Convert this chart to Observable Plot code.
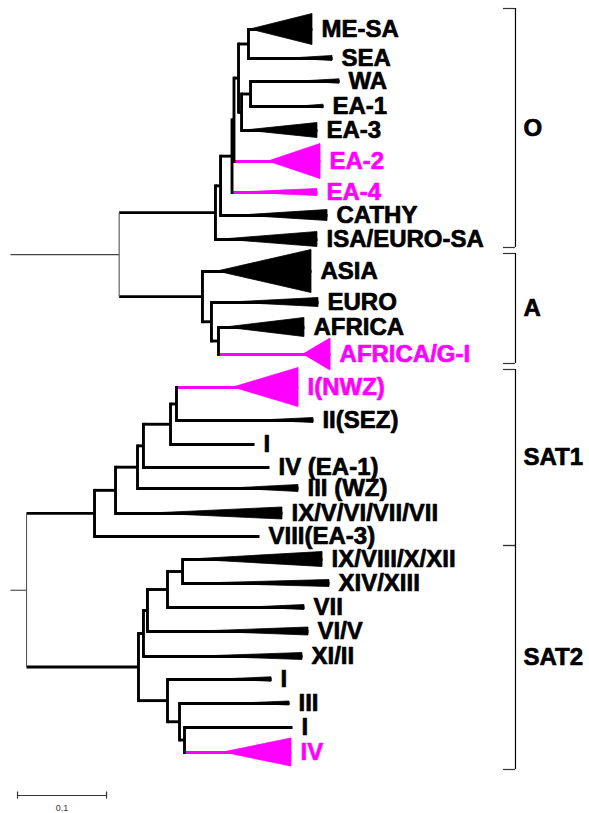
<!DOCTYPE html>
<html><head><meta charset="utf-8">
<script src="https://cdn.jsdelivr.net/npm/d3@7"></script>
<script src="https://cdn.jsdelivr.net/npm/@observablehq/plot@0.6"></script>
<style>body{margin:0;background:#fff}svg{display:block}</style>
</head><body><div id="chart"></div>
<script>
// Internal nodes: [id, parent, depth from left stub (substitutions/site)]
const nodes = [
  ["r1", null, 0], ["OA", "r1", 0.1221],
  ["O", "OA", 0.2303], ["O2", "O", 0.2360], ["O3", "O2", 0.2489], ["O4", "O3", 0.2511],
  ["O5", "O4", 0.2562], ["O6", "O5", 0.2674], ["O7", "O5", 0.2596], ["O8", "O7", 0.2697],
  ["A", "OA", 0.2157], ["A2", "A", 0.2258], ["A3", "A2", 0.2337],
  ["r2", null, 0], ["SAT", "r2", 0.0180],
  ["S1", "SAT", 0.0944], ["S2", "S1", 0.1180], ["S3", "S2", 0.1427], ["S4", "S3", 0.1494],
  ["S5", "S4", 0.1798], ["S6", "S5", 0.1865],
  ["B0", "SAT", 0.1438], ["C4", "B0", 0.1494], ["C3", "C4", 0.1539], ["C2", "C3", 0.1764],
  ["C1", "C2", 0.1933], ["C5", "B0", 0.1764], ["C6", "C5", 0.1899], ["C7", "C6", 0.1955]
];

// Tips: [label, parent, vertical position, collapsed-clade start depth, end depth, clade half-height, highlighted]
const tipsO = [
  ["ME-SA", "O6", 29, 0.2697, 0.3393, 15.5, false],
  ["SEA", "O6", 58, 0.3146, 0.3618, 2.5, false],
  ["WA", "O8", 81, 0.3258, 0.3697, 2.2, false],
  ["EA-1", "O8", 106, 0.3258, 0.3517, 1.8, false],
  ["EA-3", "O7", 130, 0.2640, 0.3449, 7.5, false],
  ["EA-2", "O4", 161, 0.2899, 0.3483, 17.5, true],
  ["EA-4", "O3", 192, 0.2584, 0.3449, 3.5, true],
  ["CATHY", "O2", 215, 0.2584, 0.3562, 5.5, false],
  ["ISA/EURO-SA", "O", 239, 0.2382, 0.3449, 7.5, false]
];
const tipsA = [
  ["ASIA", "A", 271, 0.2326, 0.3382, 21.5, false],
  ["EURO", "A2", 302, 0.2472, 0.3461, 4.5, false],
  ["AFRICA", "A3", 327, 0.2416, 0.3303, 9.5, false],
  ["AFRICA/G-I", "A3", 354, 0.3292, 0.3596, 16, true]
];
const tipsSAT1 = [
  ["I(NWZ)", "S6", 387, 0.2506, 0.3236, 19.5, true],
  ["II(SEZ)", "S6", 420, 0.2809, 0.3404, 2.5, false],
  ["I", "S5", 444, null, 0.2742, 0, false],
  ["IV (EA-1)", "S4", 467, null, 0.2910, 0, false],
  ["III (WZ)", "S3", 488, 0.2472, 0.3236, 3.5, false],
  ["IX/V/VI/VII/VII", "S2", 513, 0.1573, 0.3056, 6, false],
  ["VIII(EA-3)", "S1", 536, null, 0.2798, 0, false]
];
const tipsSAT2 = [
  ["IX/VIII/X/XII", "C1", 559, 0.2022, 0.3506, 7.5, false],
  ["XIV/XIII", "C1", 583, 0.2135, 0.3584, 3.5, false],
  ["VII", "C2", 607, 0.2697, 0.3303, 2.5, false],
  ["VI/V", "C3", 631, 0.2135, 0.3348, 4, false],
  ["XI/II", "C4", 656, 0.2135, 0.3281, 3.5, false],
  ["I", "C5", 679, 0.2360, 0.2933, 2.2, false],
  ["III", "C6", 703, 0.2584, 0.3135, 2, false],
  ["I", "C7", 727, null, 0.3169, 0, false],
  ["IV", "C7", 752, 0.2393, 0.3157, 14, true]
];

// Clade brackets: [label, top, bottom]
const groups = [["O", 8, 247], ["A", 253, 363], ["SAT1", 369, 545], ["SAT2", 545, 769]];
const bracketX = 0.5674, bracketTick = 0.5539;
// scale bar
const scaleBar = {x0: 0.0079, length: 0.1, pos: 795, label: "0.1"};

const HL = "#ff00ff";
const byId = new Map();
nodes.forEach(([id, parent, depth]) => byId.set(id, {id, parent, depth, children: [], pos: null, color: "#000"}));
const tips = [...tipsO, ...tipsA, ...tipsSAT1, ...tipsSAT2].map(([name, parent, pos, apex, end, half, hl], i) => {
  const t = {id: "t" + i, name, parent, pos, apex, depth: end, half, color: hl ? HL : "#000", children: []};
  byId.set(t.id, t);
  return t;
});
for (const n of byId.values()) if (n.parent) byId.get(n.parent).children.push(n);
function posOf(n) {
  if (n.pos != null) return n.pos;
  const ps = n.children.map(posOf);
  n.pos = (d3.min(ps) + d3.max(ps)) / 2;
  return n.pos;
}
for (const n of byId.values()) posOf(n);

const horiz = [], vert = [];
for (const n of byId.values()) {
  if (n.parent) {
    const p = byId.get(n.parent);
    horiz.push({x1: p.depth, x2: n.depth, y: n.pos, color: n.color, thin: p.id === "r1" || p.id === "r2"});
  }
  if (n.children.length > 1) {
    const ps = n.children.map(c => c.pos);
    vert.push({x: n.depth, y1: d3.min(ps), y2: d3.max(ps), thin: n.id === "OA" || n.id === "SAT"});
  }
}
const tri = [];
tips.filter(t => t.apex != null).forEach(t => {
  tri.push({id: t.id, x: t.apex, y1: t.pos, y2: t.pos, color: t.color});
  tri.push({id: t.id, x: t.depth, y1: t.pos - t.half, y2: t.pos + t.half, color: t.color});
});

const font = "Liberation Sans, Arial, Helvetica, sans-serif";
const thick = 2.9;
const chart = Plot.plot({
  width: 589, height: 813, margin: 0,
  x: {domain: [0, 0.65], range: [10, 588.5], axis: null},
  y: {domain: [0, 813], range: [0, 813], axis: null},
  color: {type: "identity"},
  marks: [
    Plot.link(horiz.filter(d => !d.thin), {x1: "x1", x2: "x2", y1: "y", y2: "y", stroke: "color", strokeWidth: thick}),
    Plot.link(horiz.filter(d => d.thin), {x1: "x1", x2: "x2", y1: "y", y2: "y", stroke: "#444", strokeWidth: 1.1}),
    Plot.areaY(tri, {x: "x", y1: "y1", y2: "y2", z: "id", fill: "color", stroke: "color", strokeWidth: 0.8}),
    Plot.link(vert.filter(d => !d.thin), {x1: "x", x2: "x", y1: "y1", y2: "y2", stroke: "#000", strokeWidth: thick, strokeLinecap: "square"}),
    Plot.link(vert.filter(d => d.thin), {x1: "x", x2: "x", y1: "y1", y2: "y2", stroke: "#555", strokeWidth: 1.1}),
    Plot.text(tips, {x: "depth", y: "pos", text: "name", dx: 9, textAnchor: "start", lineAnchor: "middle",
      fill: "color", stroke: "color", strokeWidth: 0.7, fontSize: 24, fontWeight: "bold", fontFamily: font}),
    // brackets
    Plot.ruleX(groups, {x: bracketX, y1: d => d[1], y2: d => d[2], stroke: "#000", strokeWidth: 1.2}),
    Plot.ruleY(groups, {y: d => d[1], x1: bracketTick, x2: bracketX, stroke: "#333", strokeWidth: 1.2}),
    Plot.ruleY(groups, {y: d => d[2], x1: bracketTick, x2: bracketX, stroke: "#333", strokeWidth: 1.2}),
    Plot.text(groups, {x: bracketX, y: d => (d[1] + d[2]) / 2, text: d => d[0], dx: 8, textAnchor: "start",
      lineAnchor: "middle", fill: "#000", stroke: "#000", strokeWidth: 0.7, fontSize: 24, fontWeight: "bold", fontFamily: font}),
    // scale bar
    Plot.ruleY([scaleBar], {y: "pos", x1: d => d.x0, x2: d => d.x0 + d.length, stroke: "#333", strokeWidth: 1.2}),
    Plot.ruleX([scaleBar.x0, scaleBar.x0 + scaleBar.length], {x: d => d, y1: scaleBar.pos - 3.5, y2: scaleBar.pos + 3.5, stroke: "#333", strokeWidth: 1.2}),
    Plot.text([scaleBar], {x: d => d.x0 + d.length / 2, y: d => d.pos + 13, text: "label", fontSize: 9, fill: "#333", fontFamily: font})
  ]
});
document.getElementById("chart").appendChild(chart);
</script>
</body></html>
